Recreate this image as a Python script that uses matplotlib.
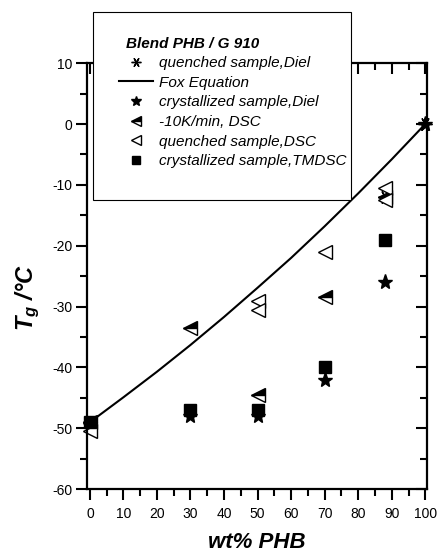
import numpy as np
import matplotlib
matplotlib.use('Agg')
import matplotlib.pyplot as plt
from matplotlib.patches import Rectangle
from matplotlib.ticker import MultipleLocator

plt.rcParams['font.family'] = ['Liberation Sans', 'DejaVu Sans']
plt.rcParams['mathtext.fontset'] = 'custom'
plt.rcParams['mathtext.it'] = 'Liberation Sans:italic:bold'
plt.rcParams['mathtext.rm'] = 'Liberation Sans:bold'
plt.rcParams['axes.unicode_minus'] = False

# Tg data for the PHB / G 910 blend
fox_wt = [0, 10, 20, 30, 40, 50, 60, 70, 80, 90, 100]
fox_tg = [-49, -44.9, -40.7, -36.3, -31.7, -26.9, -22.0, -16.8, -11.4, -5.8, 0]

quenched_diel_wt = [0, 88, 100]
quenched_diel_tg = [-49, -12, 0]

cryst_diel_wt = [0, 30, 50, 70, 88, 100]
cryst_diel_tg = [-49.5, -48, -48, -42, -26, 0]

dsc_10k_wt = [0, 30, 50, 70, 88]
dsc_10k_tg = [-49, -33.5, -44.5, -28.5, -12]

quenched_dsc_wt = [0, 50, 50, 70, 88, 88]
quenched_dsc_tg = [-50.5, -29, -30.5, -21, -10.5, -12.5]

tmdsc_wt = [0, 30, 50, 70, 88]
tmdsc_tg = [-49, -47, -47, -40, -19]

fig = plt.figure(figsize=(4.37, 5.54), dpi=100)
ax = fig.add_axes([0.198, 0.117, 0.779, 0.769])

h_fox, = ax.plot(fox_wt, fox_tg, color='black', lw=1.5, label='Fox Equation')
h_qd, = ax.plot(quenched_diel_wt, quenched_diel_tg, ls='none', marker=(6, 2, 90), ms=10,
                mec='black', mew=1.0, clip_on=False, label='quenched sample,Diel')
h_cd, = ax.plot(cryst_diel_wt, cryst_diel_tg, ls='none', marker='*', ms=11,
                color='black', clip_on=False, label='crystallized sample,Diel')
h_10k, = ax.plot(dsc_10k_wt, dsc_10k_tg, ls='none', marker='<', ms=10, mec='black',
                 mfc='black', mfcalt='white', fillstyle='top', mew=1.0,
                 clip_on=False, label='-10K/min, DSC')
h_qdsc, = ax.plot(quenched_dsc_wt, quenched_dsc_tg, ls='none', marker='<', ms=10,
                  mec='black', mfc='white', mew=1.0, clip_on=False,
                  label='quenched sample,DSC')
h_tm, = ax.plot(tmdsc_wt, tmdsc_tg, ls='none', marker='s', ms=8, color='black',
                clip_on=False, label='crystallized sample,TMDSC')

ax.set_xlim(-1, 100.5)
ax.set_ylim(-60, 10)
ax.xaxis.set_major_locator(MultipleLocator(10))
ax.xaxis.set_minor_locator(MultipleLocator(5))
ax.yaxis.set_major_locator(MultipleLocator(10))
ax.yaxis.set_minor_locator(MultipleLocator(5))
for sp in ax.spines.values():
    sp.set_linewidth(1.6)

ax.tick_params(which='both', labelsize=10, width=1.5, top=True, right=True)
ax.tick_params(axis='x', which='major', direction='out', length=8, pad=5)
ax.tick_params(axis='x', which='minor', direction='out', length=5)
ax.tick_params(axis='y', which='major', direction='out', length=8, pad=2)
ax.tick_params(axis='y', which='minor', direction='out', length=5)
# top and right ticks point into the plot
for t in ax.xaxis.get_major_ticks() + ax.xaxis.get_minor_ticks():
    t.tick2line.set_marker(3)
for t in ax.yaxis.get_major_ticks() + ax.yaxis.get_minor_ticks():
    t.tick2line.set_marker(0)

ax.set_xlabel('wt% PHB', fontsize=16, fontweight='bold', style='italic', labelpad=8)
ax.set_ylabel(r'$T_g$ /°C', fontsize=17, fontweight='bold', style='italic')
ax.yaxis.set_label_coords(-0.13, 0.45)

# legend box drawn on the figure, reaching above the axes
fig.patches.append(Rectangle((93 / 437, 1 - 200 / 554), 258 / 437, 188 / 554,
                             transform=fig.transFigure, fc='white', ec='black',
                             lw=0.8, zorder=3))
fig.text(126 / 437, 1 - 44 / 554, 'Blend PHB / G 910', fontsize=11, fontweight='bold',
         style='italic', ha='left', va='center', zorder=4)
leg = fig.legend(handles=[h_qd, h_fox, h_cd, h_10k, h_qdsc, h_tm],
                 loc='upper left', bbox_to_anchor=(119 / 437, 1 - 56 / 554),
                 frameon=False, fontsize=11, handlelength=2.2, handletextpad=0.4,
                 labelspacing=0.37, borderaxespad=0, borderpad=0, markerscale=0.7)
leg.set_zorder(4)
for txt in leg.get_texts():
    txt.set_style('italic')

fig.savefig('out.png', dpi=100)
